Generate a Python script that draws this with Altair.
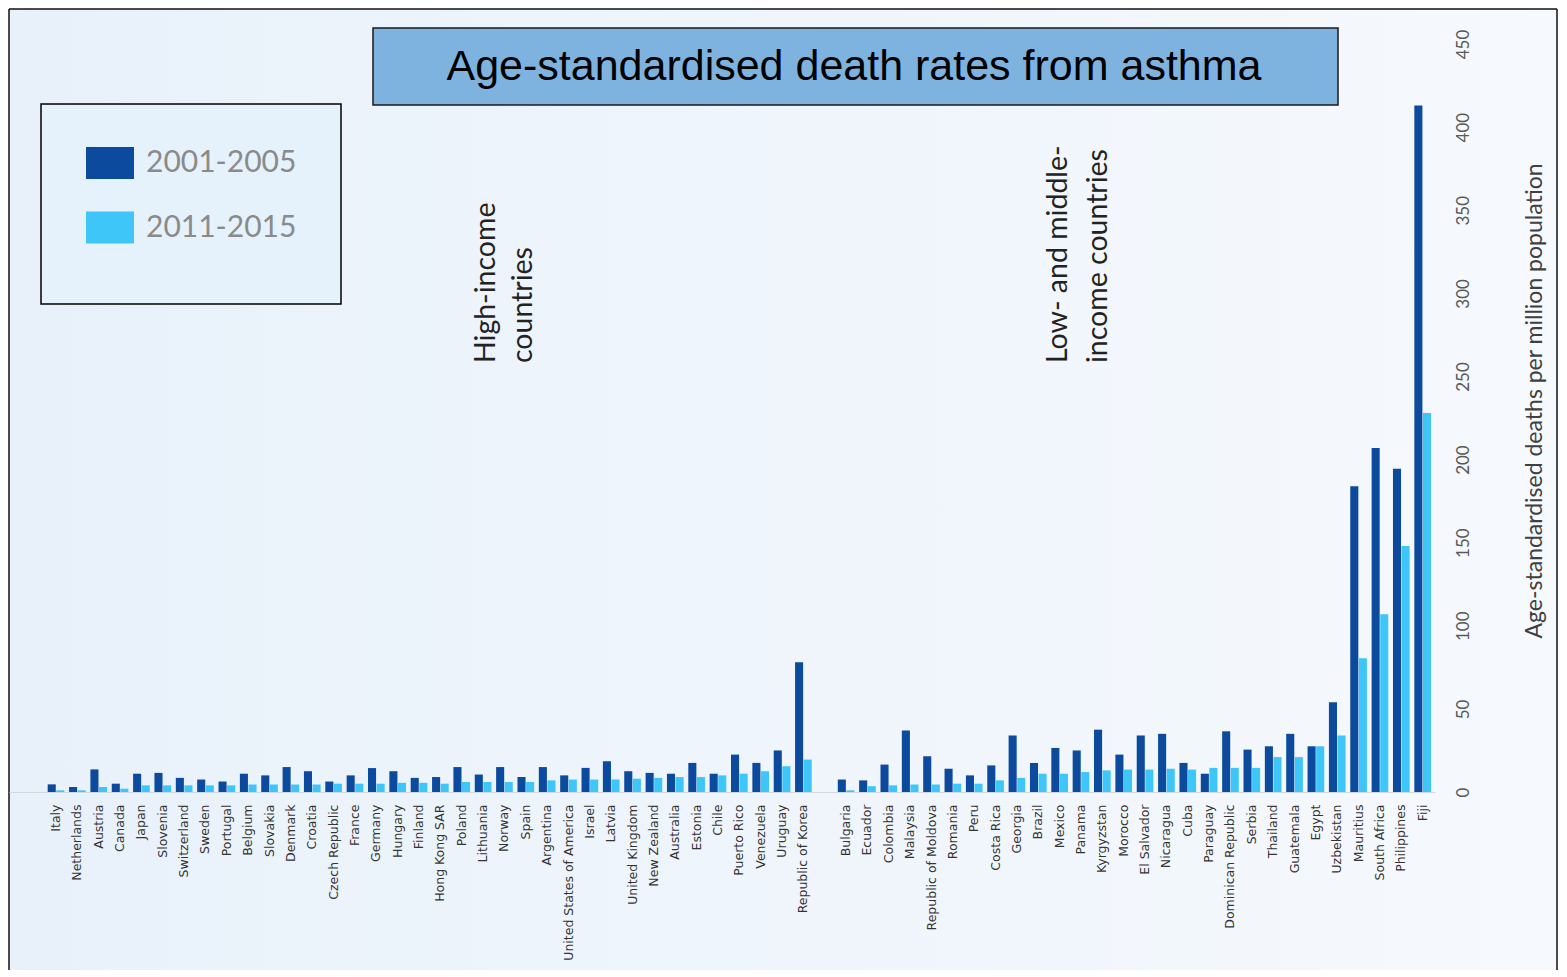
import altair as alt
import pandas as pd

# ---------------- data ----------------
high_countries = [
    "Italy", "Netherlands", "Austria", "Canada", "Japan", "Slovenia", "Switzerland",
    "Sweden", "Portugal", "Belgium", "Slovakia", "Denmark", "Croatia", "Czech Republic",
    "France", "Germany", "Hungary", "Finland", "Hong Kong SAR", "Poland", "Lithuania",
    "Norway", "Spain", "Argentina", "United States of America", "Israel", "Latvia",
    "United Kingdom", "New Zealand", "Australia", "Estonia", "Chile", "Puerto Rico",
    "Venezuela", "Uruguay", "Republic of Korea",
]
high_2001_2005 = [
    4.6, 3, 13.6, 5, 11, 11.5, 8.5, 7.5, 6.3, 11, 10, 15, 12.5, 6.3, 10, 14.4, 12.5,
    8.5, 9, 15, 10.5, 15, 9, 15, 10, 14.5, 18.5, 12.5, 11.5, 11, 17.5, 11, 22.5, 17.5,
    25, 78,
]
high_2011_2015 = [
    1, 1, 3, 2, 4, 4, 4, 4, 4, 4.5, 4.5, 4.5, 4.5, 5, 5, 5, 5.5, 5.5, 5, 6, 6, 6, 6, 7,
    7.5, 7.5, 7.5, 8, 8.5, 9, 9, 10, 11, 12.5, 15.5, 19.5,
]

low_countries = [
    "Bulgaria", "Ecuador", "Colombia", "Malaysia", "Republic of Moldova", "Romania",
    "Peru", "Costa Rica", "Georgia", "Brazil", "Mexico", "Panama", "Kyrgyzstan",
    "Morocco", "El Salvador", "Nicaragua", "Cuba", "Paraguay", "Dominican Republic",
    "Serbia", "Thailand", "Guatemala", "Egypt", "Uzbekistan", "Mauritius",
    "South Africa", "Philippines", "Fiji",
]
low_2001_2005 = [
    7.5, 7, 16.5, 37, 21.5, 14, 10, 16, 34, 17.5, 26.5, 25, 37.5, 22.5, 34, 35, 17.5,
    11, 36.5, 25.5, 27.5, 35, 27.5, 54, 184, 207, 194.5, 413,
]
low_2011_2015 = [
    1, 3.5, 4, 4.5, 4.5, 5, 5, 7, 8.5, 11, 11, 12, 13, 13.5, 13.5, 14, 13.5, 14.5,
    14.5, 14.5, 21, 21, 27.5, 34, 80.5, 107, 148, 228,
]

periods = ["2001-2005", "2011-2015"]
y_ticks = [0, 50, 100, 150, 200, 250, 300, 350, 400, 450]
gap_label = " "

title_text = "Age-standardised death rates from asthma"
y_title = "Age-standardised deaths per million population"
high_note = ["High-income", "countries"]
low_note = ["Low- and middle-", "income countries"]

# ---------------- build table ----------------
categories = high_countries + [gap_label] + low_countries
rows = []
for c, a, b in zip(high_countries + low_countries,
                   high_2001_2005 + low_2001_2005,
                   high_2011_2015 + low_2011_2015):
    rows.append({"country": c, "period": periods[0], "rate": a})
    rows.append({"country": c, "period": periods[1], "rate": b})
df = pd.DataFrame(rows)

W, H = 1426, 783
YMAX = 471.06
FRAME_W, FRAME_H = 1548, 961
colors = ["#0b4a9c", "#3ec6f8"]

one = pd.DataFrame({"k": [0]})

bg = alt.Chart(one).mark_rect(
    color=alt.LinearGradient(
        gradient="linear",
        stops=[alt.GradientStop(color="#e8f1fa", offset=0),
               alt.GradientStop(color="#f6f9fd", offset=1)],
        x1=0, x2=1, y1=0, y2=0,
    )
).encode(x=alt.value(0), x2=alt.value(FRAME_W), y=alt.value(0), y2=alt.value(FRAME_H))

frame_top = alt.Chart(one).mark_rule(color="#111111", strokeWidth=1.5).encode(
    x=alt.value(0), x2=alt.value(FRAME_W), y=alt.value(0))
frame_left = alt.Chart(one).mark_rule(color="#111111", strokeWidth=1.5).encode(
    x=alt.value(0), y=alt.value(0), y2=alt.value(FRAME_H))
frame_right = alt.Chart(one).mark_rule(color="#111111", strokeWidth=1.5).encode(
    x=alt.value(FRAME_W), y=alt.value(0), y2=alt.value(FRAME_H))

legend_box = alt.Chart(one).mark_rect(fill="#e6f2fb", stroke="#000000", strokeWidth=1.5).encode(
    x=alt.value(32), x2=alt.value(332), y=alt.value(95), y2=alt.value(295))

title_box = alt.Chart(one).mark_rect(fill="#7eb3e0", stroke="#1a1a1a", strokeWidth=1.5).encode(
    x=alt.value(364), x2=alt.value(1329), y=alt.value(19), y2=alt.value(96))
title_mark = alt.Chart(one).mark_text(
    text=title_text, font="Liberation Sans", fontSize=43, color="#000000",
    align="center", baseline="middle",
).encode(x=alt.value(845), y=alt.value(58))


def note(txt, x):
    return alt.Chart(one).mark_text(
        text=txt, font="Lato", fontSize=28.5, color="#222222",
        angle=270, align="left", baseline="middle",
    ).encode(x=alt.value(x), y=alt.value(354))


notes = [note(high_note[0], 477), note(high_note[1], 514),
         note(low_note[0], 1049), note(low_note[1], 1089)]

bars = alt.Chart(df).mark_bar().encode(
    x=alt.X(
        "country:N",
        sort=categories,
        scale=alt.Scale(domain=categories, paddingInner=0.22, paddingOuter=1,
                        align=0.906, round=False),
        axis=alt.Axis(
            title=None, labelAngle=270, labelFont="DejaVu Sans", labelFontSize=12.5,
            labelColor="#333333", ticks=False, domainColor="#cfd9e4",
            labelPadding=12, labelOverlap=False, labelLimit=400, zindex=1,
        ),
    ),
    xOffset=alt.XOffset("period:N", sort=periods,
                        scale=alt.Scale(domain=periods, paddingInner=0.06)),
    y=alt.Y(
        "rate:Q",
        scale=alt.Scale(domain=[0, YMAX], nice=False, zero=True),
        axis=alt.Axis(
            orient="right", values=y_ticks, grid=False, domain=False, ticks=False,
            tickSize=0, labelAngle=270, labelAlign="center", labelBaseline="middle",
            labelPadding=28, labelFont="Lato", labelFontSize=17, labelColor="#595959",
            title=y_title, titleAngle=270, titleX=99, titleY=391.5, titleAlign="center",
            titleBaseline="middle", titleFont="Lato", titleFontSize=23,
            titleFontWeight="normal", titleColor="#404040", zindex=1,
        ),
    ),
    color=alt.Color(
        "period:N",
        scale=alt.Scale(domain=periods, range=colors),
        legend=alt.Legend(
            title=None, orient="none", legendX=32, legendY=85, direction="vertical",
            padding=45, rowPadding=23.5,
            symbolType="M-1,-0.667L1,-0.667L1,0.667L-1,0.667Z", symbolSize=2304,
            symbolStrokeWidth=0, symbolOpacity=1, labelFont="Lato", labelFontSize=30,
            labelColor="#8a8a8a", labelOffset=12, zindex=1,
        ),
    ),
)

chart = alt.layer(
    bg, frame_top, frame_left, frame_right, legend_box, title_box, title_mark, *notes, bars
).properties(width=W, height=H, padding=0).configure_view(strokeWidth=0)

chart.save("out.html", embed_options={"renderer": "svg", "actions": False})
